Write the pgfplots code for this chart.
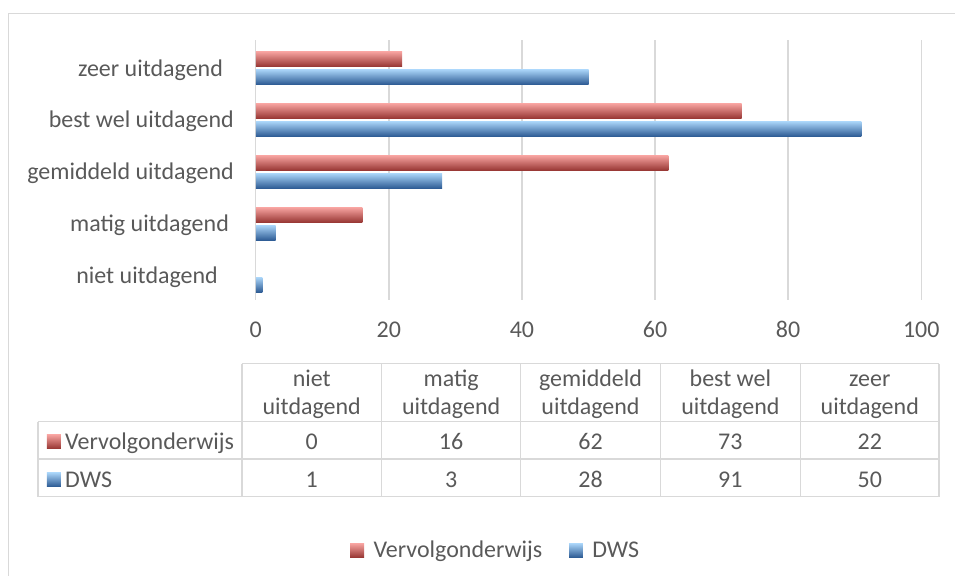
\documentclass[border=0pt]{standalone}
\usepackage{pgfplots}
\pgfplotsset{compat=1.18}
\usepackage{fontspec}
\setmainfont{Carlito}
\definecolor{txt}{HTML}{595959}
\definecolor{gridc}{HTML}{D9D9D9}
\definecolor{tblc}{HTML}{D9D9D9}
\definecolor{frm}{HTML}{D9D9D9}
\definecolor{rtop}{HTML}{F7A3A0}
\definecolor{rmid}{HTML}{D0504C}
\definecolor{rbot}{HTML}{973633}
\definecolor{btop}{HTML}{A9D4F8}
\definecolor{bmid}{HTML}{4A86CF}
\definecolor{bbot}{HTML}{2C5A93}
\newcommand\fnt{\fontsize{18}{21}\selectfont}
\newcommand\gap[1]{\rule{#1}{0pt}}
\pgfplotsset{
  redbar/.style={draw=none,top color=rtop,middle color=rmid,bottom color=rbot,bar shift=6.75pt},
  bluebar/.style={draw=none,top color=btop,middle color=bmid,bottom color=bbot,bar shift=-6.75pt},
}
\begin{document}
\begin{tikzpicture}
% bounding box 956x576 px (1px = 0.75pt)
\begin{scope}[x=0.75pt,y=-0.75pt]
\path (0,0) rectangle (956,576);
\draw[frm,line width=1.2pt] (8.5,576) -- (8.5,13.5) -- (956,13.5);
\end{scope}
\begin{axis}[
  at={(192pt,-225pt)}, anchor=south west,
  scale only axis, width=499.5pt, height=195pt,
  xmin=0, xmax=100, ymin=-0.46, ymax=4.54,
  xtick={0,20,...,100}, ytick={0,1,2,3,4},
  yticklabels={niet uitdagend\gap{12pt},matig uitdagend\gap{3.75pt},gemiddeld uitdagend,best wel uitdagend,zeer uitdagend\gap{8.25pt}},
  axis line style={draw=none}, tick style={draw=none},
  xmajorgrids, major grid style={gridc,line width=1pt},
  xbar, bar width=11.25pt,
  /pgf/number format/assume math mode=true,
  tick label style={txt,font=\fnt,inner sep=0pt},
  xticklabel style={anchor=base,yshift=-28.5pt},
  yticklabel style={anchor=base east,xshift=-12pt,yshift=-6pt},
  legend style={draw=none,fill=none,at={(rel axis cs:0.359,-0.965)},anchor=center,
    legend columns=2,font=\fnt,text=txt,inner sep=0pt,
    nodes={inner sep=0pt},
    /tikz/every odd column/.append style={column sep=7pt},
    /tikz/every even column/.append style={column sep=20pt}},
  legend image code/.code={\path[#1] (0pt,-5.25pt) rectangle (10.5pt,5.25pt);},
  clip=false,
]
% Vervolgonderwijs
\addplot[redbar] coordinates {(0,0)};
\addlegendentry{Vervolgonderwijs}
\addplot[redbar,forget plot] coordinates {(16,1)};
\addplot[redbar,forget plot] coordinates {(62,2)};
\addplot[redbar,forget plot] coordinates {(73,3)};
\addplot[redbar,forget plot] coordinates {(22,4)};
% DWS
\addplot[bluebar] coordinates {(1,0)};
\addlegendentry{DWS}
\addplot[bluebar,forget plot] coordinates {(3,1)};
\addplot[bluebar,forget plot] coordinates {(28,2)};
\addplot[bluebar,forget plot] coordinates {(91,3)};
\addplot[bluebar,forget plot] coordinates {(50,4)};
\end{axis}
\begin{scope}[x=0.75pt,y=-0.75pt,tblc,line width=1.2pt]
\draw (242,364) -- (940,364);
\foreach \yy in {422,459.5,497} \draw (38,\yy) -- (940,\yy);
\draw (38,422) -- (38,497);
\foreach \xx in {242,382,521,661,801,940} \draw (\xx,364) -- (\xx,497);
\end{scope}
\begin{scope}[x=0.75pt,y=-0.75pt,every node/.style={text=txt,font=\fnt,inner sep=0pt,anchor=base}]
\foreach \cx/\la/\lb in {312/niet/uitdagend,451.5/matig/uitdagend,591/gemiddeld/uitdagend,731/best wel/uitdagend,870.5/zeer/uitdagend}{
  \node at (\cx,386.7) {\la};
  \node at (\cx,415) {\lb};
}
\foreach \cx/\va/\vb in {312/0/1,451.5/16/3,591/62/28,731/73/91,870.5/22/50}{
  \node at (\cx,450) {\va};
  \node at (\cx,487.5) {\vb};
}
\node[anchor=base west] at (65,450) {Vervolgonderwijs};
\node[anchor=base west] at (65,487.5) {DWS};
\path[top color=rtop,middle color=rmid,bottom color=rbot] (47,435) rectangle (61,449);
\path[top color=btop,middle color=bmid,bottom color=bbot] (47,473) rectangle (61,487);
\end{scope}
\end{tikzpicture}
\end{document}
